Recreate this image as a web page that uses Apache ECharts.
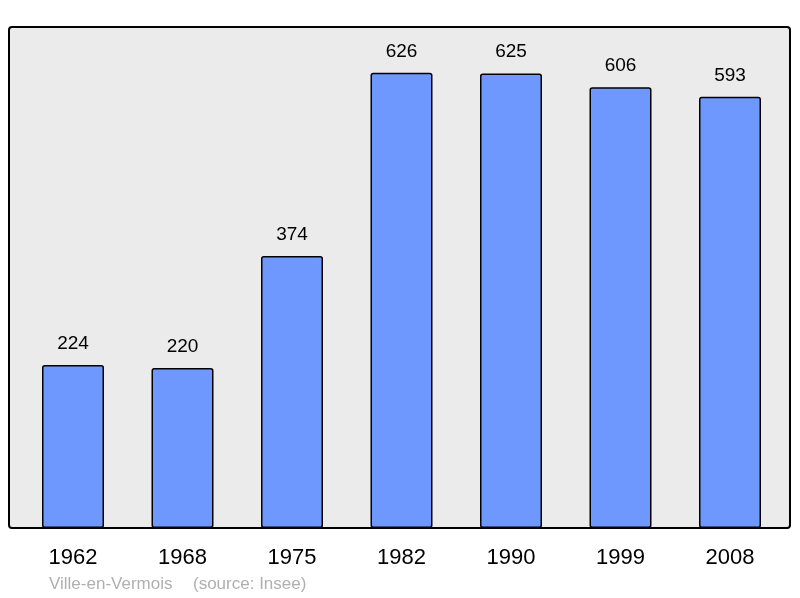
<!DOCTYPE html>
<html>
<head>
<meta charset="utf-8">
<script src="https://cdn.jsdelivr.net/npm/echarts@6/dist/echarts.min.js"></script>
<style>
    html, body { margin: 0; padding: 0; background: #fff; }
    #main { width: 800px; height: 598px; }
</style>
</head>
<body>
<div id="main"></div>
<script>
var years = ["1962", "1968", "1975", "1982", "1990", "1999", "2008"];
var population = [224, 220, 374, 626, 625, 606, 593];
var townName = "Ville-en-Vermois";
var sourceText = "(source: Insee)";

var myChart = echarts.init(document.getElementById("main"));
var font = "Liberation Sans, Arial, sans-serif";

var option = {
    animation: false,
    backgroundColor: "#fff",
    graphic: [{
        type: "rect",
        z: -10,
        shape: { x: 9, y: 27, width: 781, height: 501, r: 3 },
        style: { fill: "#ebebeb", stroke: "#000", lineWidth: 2 }
    }, {
        type: "text",
        left: 49,
        top: 576,
        style: { text: townName, fill: "#b0b0b0", font: "17px " + font }
    }, {
        type: "text",
        left: 193,
        top: 576,
        style: { text: sourceText, fill: "#b0b0b0", font: "17px " + font }
    }],
    grid: { left: 18.25, top: 27, width: 766.5, height: 501 },
    xAxis: {
        type: "category",
        data: years,
        axisLine: { show: false },
        axisTick: { show: false },
        axisLabel: { fontSize: 22, color: "#000", fontFamily: font, margin: 19 }
    },
    yAxis: {
        type: "value",
        min: 0,
        max: 689,
        show: false,
        splitLine: { show: false }
    },
    series: [{
        type: "bar",
        data: population,
        barWidth: 62,
        itemStyle: { color: "#6f98ff", borderColor: "#000", borderWidth: 1.5, borderRadius: 2 },
        label: { show: true, position: "top", distance: 12, fontSize: 19, color: "#000", fontFamily: font }
    }]
};
myChart.setOption(option);
</script>
</body>
</html>
